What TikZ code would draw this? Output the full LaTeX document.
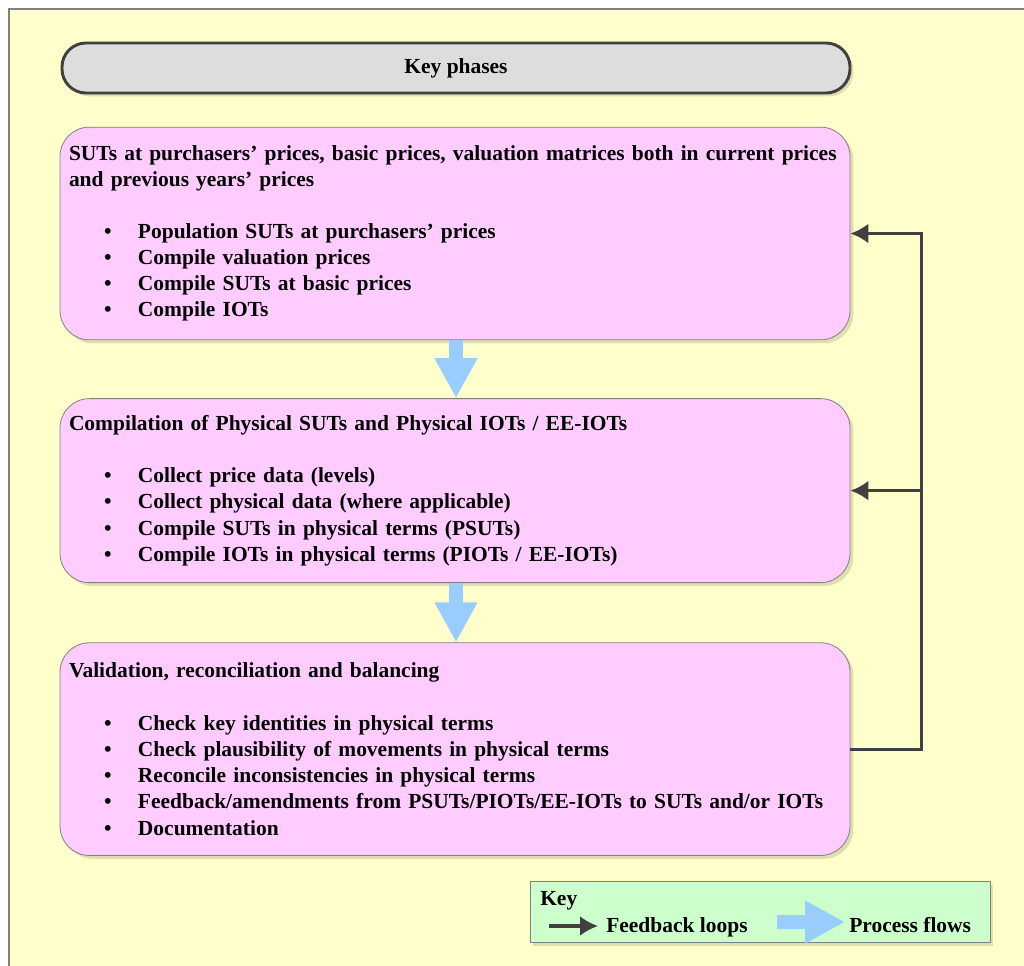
\documentclass[tikz,border=0pt]{standalone}
\usepackage{fontspec}
\setmainfont{Liberation Serif}
\usepackage{xcolor}
\usetikzlibrary{positioning,arrows.meta,calc,shadows}

\definecolor{bgyellow}{HTML}{FFFFCC}
\definecolor{phasepink}{HTML}{FFCCFF}
\definecolor{titlegray}{HTML}{DDDDDD}
\definecolor{keygreen}{HTML}{CCFFCC}
\definecolor{flowblue}{HTML}{99CCFF}
\definecolor{loopgray}{HTML}{404040}

\newcommand{\bul}[1]{\hspace*{26.4pt}\makebox[25.35pt][l]{\textbullet}#1}

\begin{document}
\begin{tikzpicture}[
  x=0.75pt, y=-0.75pt,
  font=\fontsize{16.1}{19.7}\selectfont\bfseries,
  shade/.style={drop shadow={shadow xshift=2.5pt, shadow yshift=-2.5pt, fill=black, opacity=0.13}},
  phase/.style={draw=gray, line width=0.6pt, fill=phasepink, rounded corners=22pt, shade,
    minimum width=592.5pt, text width=579pt, align=left, inner sep=6.75pt},
  titlebar/.style={draw=loopgray, line width=2.2pt, fill=titlegray, rounded corners=18pt, shade,
    minimum width=591pt, minimum height=37.5pt},
  keybox/.style={draw=gray, line width=0.6pt, fill=keygreen, shade,
    minimum width=345pt, minimum height=45.75pt},
  flow/.style={flowblue, line width=10.5pt, -{Triangle[length=30pt, width=30pt]}},
  fb/.style={loopgray, line width=2.4pt, -{Latex[length=13.5pt, width=15pt]}}
]
  \useasboundingbox (0,0) rectangle (1024,965);
  \fill[bgyellow, draw=gray, line width=0.8pt] (9,9) rectangle (1030,972);

  % phases
  \node[phase, minimum height=159.5pt] (b1) at (455,233.5) {%
    \mbox{SUTs at purchasers’ prices, basic prices, valuation matrices both in current prices}\\
    and previous years’ prices\\[18.75pt]
    \bul{Population SUTs at purchasers’ prices}\\
    \bul{Compile valuation prices}\\
    \bul{Compile SUTs at basic prices}\\
    \bul{Compile IOTs}};
  \node[phase, minimum height=138pt, below=43.5pt of b1] (b2) {%
    Compilation of Physical SUTs and Physical IOTs / EE-IOTs\\[19.5pt]
    \bul{Collect price data (levels)}\\
    \bul{Collect physical data (where applicable)}\\
    \bul{Compile SUTs in physical terms (PSUTs)}\\
    \bul{Compile IOTs in physical terms (PIOTs / EE-IOTs)}};
  \node[phase, minimum height=159.5pt, below=44.5pt of b2] (b3) {%
    Validation, reconciliation and balancing\\[19.5pt]
    \bul{Check key identities in physical terms}\\
    \bul{Check plausibility of movements in physical terms}\\
    \bul{Reconcile inconsistencies in physical terms}\\
    \bul{Feedback/amendments from PSUTs/PIOTs/EE-IOTs to SUTs and/or IOTs}\\
    \bul{Documentation}};
  \node[titlebar] (title) at (456,68) {Key phases};

  % process flows
  \draw[flow] (b1.south -| 456,0) -- (b2.north -| 456,0);
  \draw[flow] (b2.south -| 456,0) -- (b3.north -| 456,0);

  % feedback loops
  \coordinate (loop) at ($(b3.east)+(71,0)$);
  \draw[fb] (b3.east) -- (loop) |- (b1.east);
  \draw[fb] (loop |- b2.east) -- (b2.east);

  % key
  \node[keybox] (key) at (760,912) {};
  \node[anchor=base west, inner sep=0pt] (keylbl) at (540,905) {Key};
  \coordinate (fbstart) at (549,926);
  \coordinate (fbend) at (598,926);
  \draw[fb] (fbstart) -- (fbend);
  \node[anchor=base west, inner sep=0pt] (fblbl) at (606,932) {Feedback loops};
  \coordinate (pfstart) at (777,922);
  \coordinate (pfend) at (845,922);
  \draw[flow] (pfstart) -- (pfend);
  \node[anchor=base west, inner sep=0pt] (pflbl) at (849,932) {Process flows};
\end{tikzpicture}
\end{document}
